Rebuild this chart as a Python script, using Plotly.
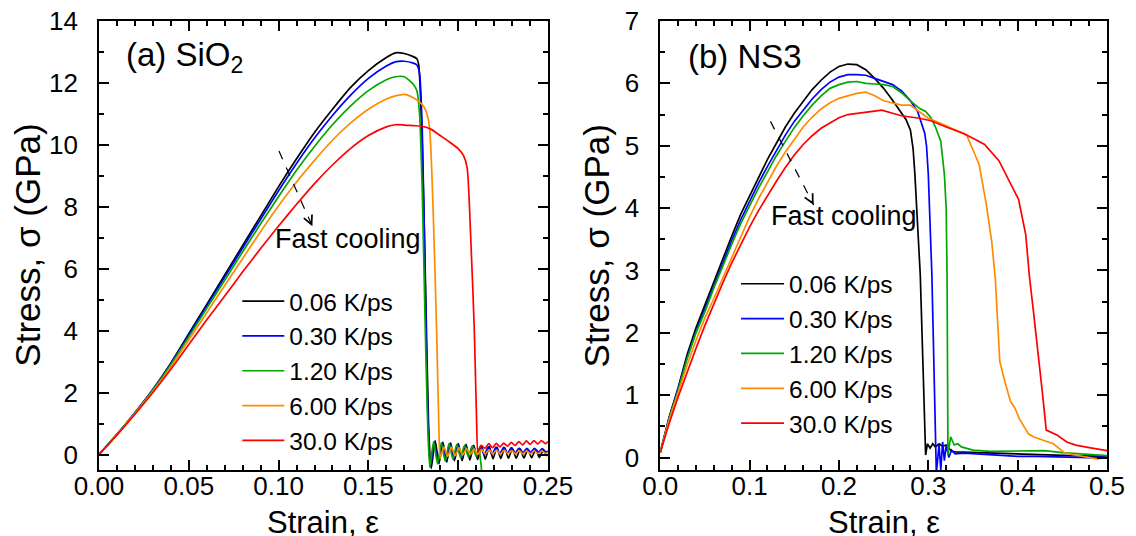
import plotly.graph_objects as go

FONT = "Liberation Sans, Arial, Helvetica, sans-serif"

rates = ["0.06 K/ps", "0.30 K/ps", "1.20 K/ps", "6.00 K/ps", "30.0 K/ps"]
colors = ["#000000", "#0000ff", "#00a800", "#ff8c00", "#ff0000"]

# ---------------- (a) SiO2 ----------------
sio2_rise_x = [0, 0.01, 0.02, 0.03, 0.04, 0.05, 0.06, 0.07, 0.08, 0.09, 0.10,
               0.11, 0.12, 0.13, 0.14, 0.15, 0.16, 0.165, 0.17, 0.175]
sio2_black_rise = [0, 0.65, 1.35, 2.1, 2.95, 3.9, 4.85, 5.8, 6.75, 7.7, 8.65,
                   9.55, 10.4, 11.15, 11.85, 12.4, 12.82, 12.97, 12.95, 12.85]
sio2_blue_rise = [0, 0.65, 1.35, 2.1, 2.93, 3.86, 4.8, 5.73, 6.67, 7.6, 8.52,
                  9.4, 10.22, 10.95, 11.6, 12.15, 12.55, 12.68, 12.7, 12.64]
sio2_green_rise = [0, 0.65, 1.34, 2.08, 2.9, 3.8, 4.72, 5.63, 6.55, 7.45, 8.33,
                   9.18, 9.95, 10.65, 11.25, 11.75, 12.1, 12.2, 12.2, 11.96]
sio2_orange_rise = [0, 0.64, 1.32, 2.04, 2.83, 3.7, 4.58, 5.46, 6.33, 7.2, 8.03,
                    8.8, 9.5, 10.15, 10.7, 11.15, 11.48, 11.58, 11.63, 11.52]
sio2_red_rise = [0, 0.63, 1.3, 2.0, 2.75, 3.55, 4.35, 5.12, 5.9, 6.65, 7.38,
                 8.08, 8.75, 9.35, 9.88, 10.3, 10.58, 10.65, 10.64, 10.62]

sio2_black_after_x = [0.177, 0.178, 0.180, 0.182, 0.1835,
                      0.1850, 0.1872, 0.1893, 0.1915, 0.1936, 0.1958, 0.1979, 0.2001, 0.2022,
                      0.2044, 0.2065, 0.2087, 0.2108, 0.2130, 0.2151, 0.2173, 0.2194, 0.2216,
                      0.2237, 0.2259, 0.2280, 0.2302, 0.2323, 0.2345, 0.2366, 0.2388, 0.2409,
                      0.2431, 0.2452, 0.2474, 0.2495]
sio2_black_after_y = [12.78, 12.6, 10.0, 5.0, 1.0,
                      -0.45, 0.45, -0.3, 0.4, -0.25, 0.38, -0.2, 0.35, -0.2,
                      0.33, -0.18, 0.3, -0.16, 0.28, -0.15, 0.26, -0.14, 0.24,
                      -0.13, 0.22, -0.12, 0.2, -0.12, 0.18, -0.11, 0.17, -0.1,
                      0.16, -0.1, 0.15, -0.05]
sio2_blue_after_x = [0.177, 0.1785, 0.180, 0.1815, 0.183,
                     0.1845, 0.1866, 0.1888, 0.1909, 0.1931, 0.1952, 0.1974, 0.1995, 0.2017,
                     0.2038, 0.2060, 0.2081, 0.2103, 0.2124, 0.2146, 0.2167, 0.2189, 0.2210,
                     0.2232, 0.2253, 0.2275, 0.2296, 0.2318, 0.2339, 0.2361, 0.2382, 0.2404,
                     0.2425, 0.2447, 0.2468, 0.2490, 0.2500]
sio2_blue_after_y = [12.58, 12.3, 10.5, 6.0, 1.5,
                     -0.4, 0.4, -0.25, 0.38, -0.2, 0.35, -0.15, 0.33, -0.1,
                     0.3, -0.08, 0.28, -0.05, 0.26, -0.02, 0.25, 0.0, 0.24,
                     0.02, 0.23, 0.04, 0.22, 0.05, 0.21, 0.06, 0.2, 0.07,
                     0.2, 0.08, 0.19, 0.08, 0.12]
sio2_green_after_x = [0.177, 0.1785, 0.180, 0.1815, 0.183,
                      0.1842, 0.1863, 0.1885, 0.1906, 0.1928, 0.1949, 0.1971, 0.1992, 0.2014,
                      0.2035, 0.2057, 0.2078, 0.2100, 0.2115, 0.2125, 0.2135]
sio2_green_after_y = [11.75, 11.0, 8.5, 4.5, 1.0,
                      -0.42, 0.42, -0.3, 0.38, -0.22, 0.35, -0.15, 0.32, -0.1,
                      0.3, -0.08, 0.28, -0.05, 0.2, -0.2, -0.8]
sio2_orange_after_x = [0.180, 0.182, 0.184, 0.186, 0.188, 0.1892,
                       0.1900, 0.1920, 0.1941, 0.1962, 0.1983, 0.2004, 0.2025, 0.2046, 0.2067,
                       0.2088, 0.2109, 0.2130, 0.2151, 0.2172, 0.2193, 0.2214, 0.2235, 0.2256,
                       0.2277, 0.2298, 0.2319, 0.2340, 0.2361, 0.2382, 0.2403, 0.2424, 0.2445,
                       0.2466, 0.2487, 0.2500]
sio2_orange_after_y = [11.3, 11.1, 10.6, 8.0, 4.0, 1.0,
                       -0.12, 0.25, -0.06, 0.24, -0.04, 0.22, -0.02, 0.2, 0.0,
                       0.18, 0.0, 0.17, 0.01, 0.16, 0.01, 0.15, 0.01, 0.14,
                       0.02, 0.13, 0.02, 0.13, 0.02, 0.12, 0.02, 0.12, 0.02,
                       0.12, 0.03, 0.08]
sio2_red_after_x = [0.180, 0.185, 0.190, 0.195, 0.200, 0.203, 0.205, 0.207, 0.209, 0.2103,
                    0.2110, 0.2128, 0.2149, 0.2170, 0.2191, 0.2212, 0.2233, 0.2254, 0.2275,
                    0.2296, 0.2317, 0.2338, 0.2359, 0.2380, 0.2401, 0.2422, 0.2443, 0.2464,
                    0.2485, 0.2500]
sio2_red_after_y = [10.6, 10.5, 10.3, 10.1, 9.88, 9.65, 9.26, 7.0, 4.0, 1.0,
                    0.08, 0.3, 0.2, 0.35, 0.22, 0.36, 0.25, 0.37, 0.27,
                    0.39, 0.29, 0.42, 0.31, 0.44, 0.33, 0.45, 0.34, 0.45,
                    0.35, 0.42]

# ---------------- (b) NS3 ----------------
ns3_rise_x = [0, 0.01, 0.02, 0.03, 0.04, 0.05, 0.06, 0.07, 0.08, 0.09, 0.10,
              0.11, 0.12, 0.13, 0.14, 0.15, 0.16, 0.17, 0.18, 0.19, 0.20]
ns3_black_rise = [0.08, 0.65, 1.12, 1.65, 2.08, 2.45, 2.82, 3.2, 3.55, 3.9, 4.2,
                  4.5, 4.78, 5.04, 5.3, 5.52, 5.72, 5.9, 6.05, 6.18, 6.27]
ns3_blue_rise = [0.08, 0.64, 1.1, 1.6, 2.02, 2.38, 2.76, 3.13, 3.48, 3.81, 4.11,
                 4.4, 4.67, 4.93, 5.17, 5.39, 5.58, 5.75, 5.9, 6.02, 6.1]
ns3_green_rise = [0.08, 0.63, 1.08, 1.58, 2.0, 2.34, 2.72, 3.08, 3.42, 3.75, 4.04,
                  4.32, 4.58, 4.84, 5.07, 5.29, 5.48, 5.65, 5.8, 5.92, 5.98]
ns3_orange_rise = [0.08, 0.6, 1.04, 1.48, 1.88, 2.24, 2.55, 2.88, 3.22, 3.55, 3.86,
                   4.15, 4.42, 4.67, 4.9, 5.11, 5.3, 5.46, 5.59, 5.69, 5.76]
ns3_red_rise = [0.08, 0.55, 0.97, 1.37, 1.75, 2.12, 2.47, 2.8, 3.12, 3.42, 3.7,
                3.96, 4.2, 4.43, 4.65, 4.85, 5.02, 5.16, 5.28, 5.37, 5.45]

ns3_black_after_x = [0.21, 0.22, 0.23, 0.24, 0.25, 0.26, 0.27, 0.275, 0.28, 0.283, 0.285,
                     0.288, 0.291, 0.294, 0.297, 0.299, 0.302, 0.305, 0.308, 0.312, 0.316,
                     0.32, 0.323, 0.326, 0.33, 0.35, 0.37, 0.40, 0.43, 0.46, 0.5]
ns3_black_after_y = [6.31, 6.3, 6.22, 6.08, 5.92, 5.73, 5.52, 5.42, 5.25, 4.95, 4.54,
                     3.8, 2.93, 1.5, 0.04, 0.22, 0.15, 0.22, 0.17, 0.22, 0.18,
                     0.2, 0.15, 0.1, 0.09, 0.08, 0.07, 0.06, 0.05, 0.03, 0.02]
ns3_blue_after_x = [0.21, 0.22, 0.23, 0.24, 0.25, 0.26, 0.27, 0.28, 0.288, 0.292, 0.296,
                    0.298, 0.300, 0.304, 0.307, 0.309, 0.312, 0.314, 0.316, 0.318, 0.320,
                    0.323, 0.326, 0.33, 0.34, 0.36, 0.38, 0.40, 0.42, 0.45, 0.48, 0.5]
ns3_blue_after_y = [6.14, 6.14, 6.13, 6.08, 6.03, 5.98, 5.88, 5.72, 5.55, 5.39, 5.2,
                    5.0, 4.54, 2.93, 1.0, -0.25, 0.2, -0.2, 0.25, -0.05, 0.2,
                    0.0, 0.12, 0.06, 0.07, 0.05, 0.04, 0.02, 0.02, 0.01, 0.0, 0.01]
ns3_green_after_x = [0.21, 0.22, 0.23, 0.24, 0.25, 0.26, 0.27, 0.28, 0.29, 0.297, 0.303,
                     0.308, 0.314, 0.318, 0.320, 0.321, 0.3215, 0.322, 0.325, 0.329, 0.333,
                     0.337, 0.342, 0.35, 0.37, 0.39, 0.41, 0.43, 0.45, 0.47, 0.49, 0.5]
ns3_green_after_y = [6.02, 6.03, 6.0, 5.99, 5.98, 5.95, 5.85, 5.72, 5.6, 5.55, 5.45,
                     5.3, 5.07, 4.54, 4.0, 2.93, 1.0, 0.04, 0.33, 0.2, 0.22,
                     0.17, 0.15, 0.12, 0.1, 0.1, 0.1, 0.11, 0.08, 0.06, 0.04, 0.03]
ns3_orange_after_x = [0.21, 0.22, 0.23, 0.24, 0.25, 0.26, 0.27, 0.28, 0.29, 0.30, 0.315,
                      0.331, 0.343, 0.351, 0.357, 0.365, 0.371, 0.375, 0.380, 0.386, 0.392,
                      0.397, 0.402, 0.407, 0.412, 0.418, 0.424, 0.432, 0.44, 0.446, 0.452,
                      0.46, 0.47, 0.48, 0.488, 0.5]
ns3_orange_after_y = [5.8, 5.84, 5.86, 5.8, 5.72, 5.68, 5.65, 5.65, 5.55, 5.44, 5.35,
                      5.25, 5.17, 4.9, 4.69, 4.05, 3.46, 2.87, 1.54, 1.2, 0.9,
                      0.79, 0.62, 0.5, 0.38, 0.33, 0.3, 0.26, 0.22, 0.15, 0.08,
                      0.05, 0.03, 0.0, -0.02, 0.0]
ns3_red_after_x = [0.21, 0.22, 0.23, 0.24, 0.248, 0.26, 0.27, 0.29, 0.303, 0.32, 0.339,
                   0.35, 0.363, 0.379, 0.392, 0.401, 0.409, 0.413, 0.418, 0.422, 0.428,
                   0.432, 0.438, 0.444, 0.455, 0.465, 0.48, 0.49, 0.5]
ns3_red_after_y = [5.5, 5.52, 5.54, 5.55, 5.57, 5.52, 5.48, 5.44, 5.40, 5.3, 5.2,
                   5.12, 5.02, 4.76, 4.4, 4.14, 3.58, 2.93, 2.3, 1.8, 1.0,
                   0.44, 0.4, 0.36, 0.25, 0.2, 0.16, 0.13, 0.11]

# annotation arrows (start -> end, data coordinates)
arrow_a = [0.1002, 9.80, 0.1188, 7.37]
arrow_b = [0.1233, 5.39, 0.1717, 4.05]

sio2_series = [
    (sio2_black_rise, sio2_black_after_x, sio2_black_after_y),
    (sio2_blue_rise, sio2_blue_after_x, sio2_blue_after_y),
    (sio2_green_rise, sio2_green_after_x, sio2_green_after_y),
    (sio2_orange_rise, sio2_orange_after_x, sio2_orange_after_y),
    (sio2_red_rise, sio2_red_after_x, sio2_red_after_y),
]
ns3_series = [
    (ns3_black_rise, ns3_black_after_x, ns3_black_after_y),
    (ns3_blue_rise, ns3_blue_after_x, ns3_blue_after_y),
    (ns3_green_rise, ns3_green_after_x, ns3_green_after_y),
    (ns3_orange_rise, ns3_orange_after_x, ns3_orange_after_y),
    (ns3_red_rise, ns3_red_after_x, ns3_red_after_y),
]

fig = go.Figure()
for i, (rise, ax_, ay_) in enumerate(sio2_series):
    fig.add_trace(go.Scatter(
        x=sio2_rise_x + ax_, y=rise + ay_, mode="lines", name=rates[i],
        line=dict(color=colors[i], width=1.7, shape="spline", smoothing=0.6),
        xaxis="x", yaxis="y", legend="legend", legendgroup=f"a{i}"))
for i, (rise, ax_, ay_) in enumerate(ns3_series):
    fig.add_trace(go.Scatter(
        x=ns3_rise_x + ax_, y=rise + ay_, mode="lines", name=rates[i],
        line=dict(color=colors[i], width=1.7),
        xaxis="x2", yaxis="y2", legend="legend2", legendgroup=f"b{i}"))

axis_common = dict(
    showline=True, linecolor="black", linewidth=1.8, mirror="allticks",
    ticks="inside", ticklen=10, tickwidth=1.5, tickcolor="black",
    showgrid=False, zeroline=False, ticklabeloverflow="allow", automargin=False,
    tickfont=dict(family=FONT, size=26, color="black"),
)
minor_common = dict(ticks="inside", ticklen=5, tickwidth=1.5, tickcolor="black")

fig.update_layout(
    width=1136, height=536,
    margin=dict(l=91, r=37, t=13, b=74),
    paper_bgcolor="white", plot_bgcolor="white",
    font=dict(family=FONT, color="black"),
    xaxis=dict(domain=[0, 0.4454], range=[0, 0.25], dtick=0.05, tickformat=".2f",
               minor=dict(dtick=0.01, **minor_common), ticklabelstandoff=-8,
               anchor="y", **axis_common),
    yaxis=dict(domain=[0, 1], range=[-0.5, 14], dtick=2, tickformat="d",
               minor=dict(dtick=1, **minor_common), ticklabelstandoff=14,
               anchor="x", **axis_common),
    xaxis2=dict(domain=[0.5568, 1], range=[0, 0.5], dtick=0.1, tickformat=".1f",
                minor=dict(dtick=0.02, **minor_common), ticklabelstandoff=-8,
                anchor="y2", **axis_common),
    yaxis2=dict(domain=[0, 1], range=[-0.2, 7], dtick=1, tickformat="d",
                minor=dict(dtick=0.5, **minor_common), ticklabelstandoff=14,
                anchor="x2", **axis_common),
    legend=dict(x=0.1372, y=0.4262, xanchor="left", yanchor="top",
                bgcolor="rgba(0,0,0,0)", borderwidth=0, itemwidth=42,
                tracegroupgap=0, font=dict(family=FONT, size=24.5, color="black")),
    legend2=dict(x=0.632, y=0.4647, xanchor="left", yanchor="top",
                 bgcolor="rgba(0,0,0,0)", borderwidth=0, itemwidth=43,
                 tracegroupgap=0, font=dict(family=FONT, size=24.5, color="black")),
    showlegend=True,
)

annotations = [
    dict(text="(a) SiO<sub>2</sub>", xref="x domain", yref="y domain", x=0.0557, y=0.92,
         xanchor="left", yanchor="middle", showarrow=False, font=dict(size=33)),
    dict(text="(b) NS3", xref="x2 domain", yref="y2 domain", x=0.0575, y=0.922,
         xanchor="left", yanchor="middle", showarrow=False, font=dict(size=33)),
    dict(text="Fast cooling", xref="x domain", yref="y domain", x=0.3875, y=0.514,
         xanchor="left", yanchor="middle", showarrow=False, font=dict(size=27)),
    dict(text="Fast cooling", xref="x2 domain", yref="y2 domain", x=0.2433, y=0.565,
         xanchor="left", yanchor="middle", showarrow=False, font=dict(size=27)),
    dict(text="Strain, ε", xref="x domain", yref="y domain", x=0.5, y=-0.118,
         xanchor="center", yanchor="middle", showarrow=False, font=dict(size=31)),
    dict(text="Strain, ε", xref="x2 domain", yref="y2 domain", x=0.5, y=-0.118,
         xanchor="center", yanchor="middle", showarrow=False, font=dict(size=31)),
    dict(text="Stress, σ (GPa)", xref="x domain", yref="y domain", x=-0.160, y=0.5,
         xanchor="center", yanchor="middle", textangle=-90, showarrow=False, font=dict(size=35)),
    dict(text="Stress, σ (GPa)", xref="x2 domain", yref="y2 domain", x=-0.1418, y=0.5,
         xanchor="center", yanchor="middle", textangle=-90, showarrow=False, font=dict(size=35)),
]
# arrowheads at the end of the dashed lines
for arr, xr, yr, (ux, uy) in [(arrow_a, "x", "y", (0.406, 0.914)), (arrow_b, "x2", "y2", (0.461, 0.887))]:
    annotations.append(dict(text="", x=arr[2], y=arr[3], xref=xr, yref=yr,
                            ax=-ux * 6, ay=-uy * 6, axref="pixel", ayref="pixel",
                            showarrow=True, arrowhead=5, arrowsize=1.6, arrowwidth=1.1,
                            arrowcolor="black"))
fig.update_layout(annotations=annotations)

shapes = []
for arr, xr, yr in [(arrow_a, "x", "y"), (arrow_b, "x2", "y2")]:
    shapes.append(dict(type="line", xref=xr, yref=yr, x0=arr[0], y0=arr[1], x1=arr[2], y1=arr[3],
                       line=dict(color="black", width=1.2, dash="dash")))
fig.update_layout(shapes=shapes)

fig.write_html("out.html")
